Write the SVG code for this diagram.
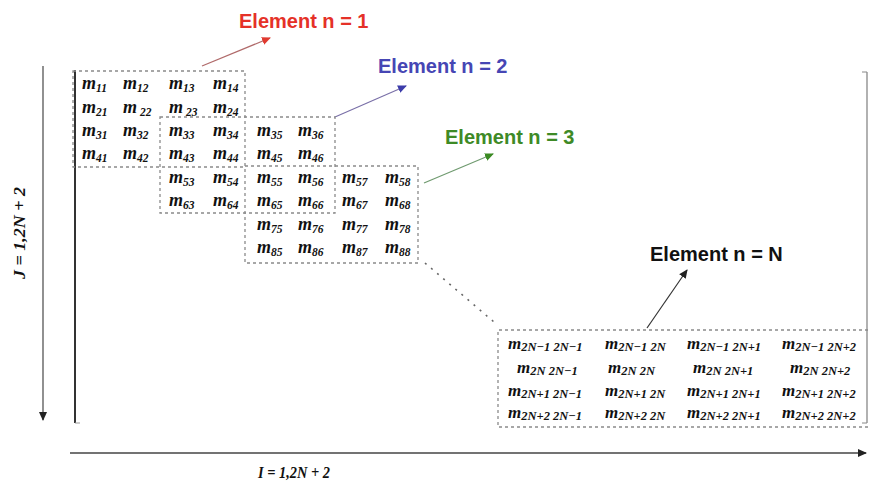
<svg xmlns="http://www.w3.org/2000/svg" width="870" height="483" viewBox="0 0 870 483">
<style>
.lbl{font-family:"Liberation Sans",Arial,sans-serif;font-weight:bold;font-size:20px}
.m{font-family:"Liberation Serif","Times New Roman",serif;font-weight:bold;font-style:italic;font-size:18px;fill:#111}
.s{font-size:11.5px}
.mn{font-family:"Liberation Serif","Times New Roman",serif;font-weight:bold;font-style:italic;font-size:17px;fill:#111}
.sn{font-size:12.5px}
.box{fill:none;stroke:#8a8a8a;stroke-width:1.3;stroke-dasharray:3 3}
.ax{font-family:"Liberation Serif","Times New Roman",serif;font-weight:bold;font-style:italic;font-size:17px;fill:#111}
</style>
<defs>
<marker id="hr" markerWidth="10" markerHeight="10" refX="8" refY="5" orient="auto" markerUnits="userSpaceOnUse"><path d="M0,1 L9,5 L0,9 Z" fill="#e03a30"/></marker>
<marker id="hb" markerWidth="10" markerHeight="10" refX="8" refY="5" orient="auto" markerUnits="userSpaceOnUse"><path d="M0,1 L9,5 L0,9 Z" fill="#3c3caa"/></marker>
<marker id="hg" markerWidth="10" markerHeight="10" refX="8" refY="5" orient="auto" markerUnits="userSpaceOnUse"><path d="M0,1 L9,5 L0,9 Z" fill="#3a8a22"/></marker>
<marker id="hk" markerWidth="10" markerHeight="10" refX="8" refY="5" orient="auto" markerUnits="userSpaceOnUse"><path d="M0,1 L9,5 L0,9 Z" fill="#222"/></marker>
</defs>
<rect width="870" height="483" fill="#fff"/>

<g id="frame">
<line x1="75" y1="70" x2="75" y2="423" stroke="#333" stroke-width="2"/>
<line x1="75" y1="423" x2="80" y2="423" stroke="#999" stroke-width="1"/>
<line x1="867" y1="72" x2="867" y2="423" stroke="#888" stroke-width="1.3"/>
<line x1="862" y1="72" x2="867" y2="72" stroke="#888" stroke-width="1"/>
<line x1="862" y1="423" x2="867" y2="423" stroke="#888" stroke-width="1"/>
</g>

<g id="axes">
<line x1="43" y1="66" x2="43" y2="420" stroke="#555" stroke-width="1.3" marker-end="url(#hk)"/>
<line x1="70" y1="453" x2="866" y2="453" stroke="#444" stroke-width="1.3" marker-end="url(#hk)"/>
<text class="ax" transform="translate(25,233) rotate(-90)" text-anchor="middle" textLength="92" lengthAdjust="spacingAndGlyphs">J = 1,2N + 2</text>
<text class="ax" x="258" y="478" textLength="72" lengthAdjust="spacingAndGlyphs">I = 1,2N + 2</text>
</g>

<g id="connectors">
<line x1="202" y1="66" x2="270" y2="38" stroke="#b06a6a" stroke-width="1.2" marker-end="url(#hr)"/>
<line x1="335" y1="117" x2="406" y2="86" stroke="#7a70a8" stroke-width="1.2" marker-end="url(#hb)"/>
<line x1="424" y1="183" x2="493" y2="154" stroke="#6f9a6f" stroke-width="1.2" marker-end="url(#hg)"/>
<line x1="647" y1="328" x2="687" y2="270" stroke="#333" stroke-width="1.2" marker-end="url(#hk)"/>
<line x1="425" y1="263" x2="494" y2="322" stroke="#666" stroke-width="1.6" stroke-dasharray="2 6"/>
</g>

<g id="element1">
<rect class="box" x="73" y="71" width="172" height="96"/>
<text class="lbl" x="239" y="28" fill="#e53128">Element n = 1</text>
<text class="m" x="82" y="89">m<tspan class="s" dy="3">11</tspan></text>
<text class="m" x="123" y="89">m<tspan class="s" dy="3">12</tspan></text>
<text class="m" x="169" y="89">m<tspan class="s" dy="3">13</tspan></text>
<text class="m" x="213" y="89">m<tspan class="s" dy="3">14</tspan></text>
<text class="m" x="82" y="113">m<tspan class="s" dy="3">21</tspan></text>
<text class="m" x="123" y="113">m<tspan class="s" dy="3"> 22</tspan></text>
<text class="m" x="169" y="113">m<tspan class="s" dy="3"> 23</tspan></text>
<text class="m" x="213" y="113">m<tspan class="s" dy="3">24</tspan></text>
<text class="m" x="82" y="136">m<tspan class="s" dy="3">31</tspan></text>
<text class="m" x="123" y="136">m<tspan class="s" dy="3">32</tspan></text>
<text class="m" x="82" y="159">m<tspan class="s" dy="3">41</tspan></text>
<text class="m" x="123" y="159">m<tspan class="s" dy="3">42</tspan></text>
</g>

<g id="element2">
<rect class="box" x="160" y="117" width="175" height="96"/>
<text class="lbl" x="378" y="73" fill="#4646b4">Element n = 2</text>
<text class="m" x="169" y="136">m<tspan class="s" dy="3">33</tspan></text>
<text class="m" x="213" y="136">m<tspan class="s" dy="3">34</tspan></text>
<text class="m" x="257" y="136">m<tspan class="s" dy="3">35</tspan></text>
<text class="m" x="298" y="136">m<tspan class="s" dy="3">36</tspan></text>
<text class="m" x="169" y="159">m<tspan class="s" dy="3">43</tspan></text>
<text class="m" x="213" y="159">m<tspan class="s" dy="3">44</tspan></text>
<text class="m" x="257" y="159">m<tspan class="s" dy="3">45</tspan></text>
<text class="m" x="298" y="159">m<tspan class="s" dy="3">46</tspan></text>
<text class="m" x="169" y="183">m<tspan class="s" dy="3">53</tspan></text>
<text class="m" x="213" y="183">m<tspan class="s" dy="3">54</tspan></text>
<text class="m" x="169" y="206">m<tspan class="s" dy="3">63</tspan></text>
<text class="m" x="213" y="206">m<tspan class="s" dy="3">64</tspan></text>
</g>

<g id="element3">
<rect class="box" x="245" y="166" width="173" height="97"/>
<text class="lbl" x="445" y="144" fill="#3e8a26">Element n = 3</text>
<text class="m" x="257" y="183">m<tspan class="s" dy="3">55</tspan></text>
<text class="m" x="298" y="183">m<tspan class="s" dy="3">56</tspan></text>
<text class="m" x="342" y="183">m<tspan class="s" dy="3">57</tspan></text>
<text class="m" x="385" y="183">m<tspan class="s" dy="3">58</tspan></text>
<text class="m" x="257" y="206">m<tspan class="s" dy="3">65</tspan></text>
<text class="m" x="298" y="206">m<tspan class="s" dy="3">66</tspan></text>
<text class="m" x="342" y="206">m<tspan class="s" dy="3">67</tspan></text>
<text class="m" x="385" y="206">m<tspan class="s" dy="3">68</tspan></text>
<text class="m" x="257" y="230">m<tspan class="s" dy="3">75</tspan></text>
<text class="m" x="298" y="230">m<tspan class="s" dy="3">76</tspan></text>
<text class="m" x="342" y="230">m<tspan class="s" dy="3">77</tspan></text>
<text class="m" x="385" y="230">m<tspan class="s" dy="3">78</tspan></text>
<text class="m" x="257" y="253">m<tspan class="s" dy="3">85</tspan></text>
<text class="m" x="298" y="253">m<tspan class="s" dy="3">86</tspan></text>
<text class="m" x="342" y="253">m<tspan class="s" dy="3">87</tspan></text>
<text class="m" x="385" y="253">m<tspan class="s" dy="3">88</tspan></text>
</g>

<g id="elementN">
<path class="box" d="M868,330 H498 V427 H868"/>
<text class="lbl" x="650" y="261" fill="#111">Element n = N</text>
<text class="mn" x="508" y="349">m<tspan class="sn" dy="2">2N−1 2N−1</tspan></text>
<text class="mn" x="605" y="349">m<tspan class="sn" dy="2">2N−1 2N</tspan></text>
<text class="mn" x="687" y="349">m<tspan class="sn" dy="2">2N−1 2N+1</tspan></text>
<text class="mn" x="782" y="349">m<tspan class="sn" dy="2">2N−1 2N+2</tspan></text>
<text class="mn" x="517" y="373">m<tspan class="sn" dy="2">2N 2N−1</tspan></text>
<text class="mn" x="608" y="373">m<tspan class="sn" dy="2">2N 2N</tspan></text>
<text class="mn" x="693" y="373">m<tspan class="sn" dy="2">2N 2N+1</tspan></text>
<text class="mn" x="790" y="373">m<tspan class="sn" dy="2">2N 2N+2</tspan></text>
<text class="mn" x="508" y="396">m<tspan class="sn" dy="2">2N+1 2N−1</tspan></text>
<text class="mn" x="605" y="396">m<tspan class="sn" dy="2">2N+1 2N</tspan></text>
<text class="mn" x="687" y="396">m<tspan class="sn" dy="2">2N+1 2N+1</tspan></text>
<text class="mn" x="782" y="396">m<tspan class="sn" dy="2">2N+1 2N+2</tspan></text>
<text class="mn" x="508" y="418">m<tspan class="sn" dy="2">2N+2 2N−1</tspan></text>
<text class="mn" x="605" y="418">m<tspan class="sn" dy="2">2N+2 2N</tspan></text>
<text class="mn" x="687" y="418">m<tspan class="sn" dy="2">2N+2 2N+1</tspan></text>
<text class="mn" x="782" y="418">m<tspan class="sn" dy="2">2N+2 2N+2</tspan></text>
</g>
</svg>
